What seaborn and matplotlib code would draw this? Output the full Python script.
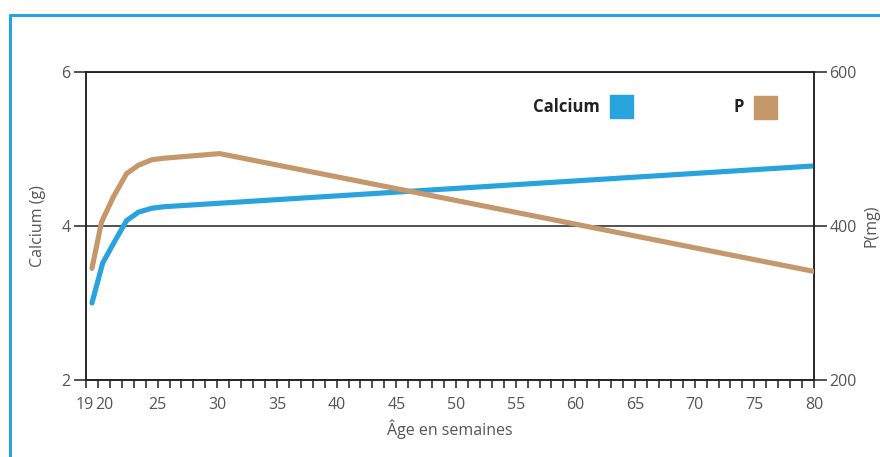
import matplotlib
matplotlib.use("Agg")
import matplotlib.pyplot as plt
import matplotlib.patches as mpatches
import matplotlib.transforms as mtransforms
import seaborn as sns
import pandas as pd

# ---- data ----
ca_weeks = [19.5, 20.4, 21.4, 22.4, 23.4, 24.5, 25.5, 80]
ca_values = [3.0, 3.52, 3.80, 4.07, 4.18, 4.23, 4.25, 4.78]
p_weeks = [19.5, 20.3, 21.3, 22.4, 23.4, 24.5, 25.5, 30.2, 80]
p_values = [345, 405, 438, 468, 479, 486, 488, 494, 341]
x_labels = [19, 20, 25, 30, 35, 40, 45, 50, 55, 60, 65, 70, 75, 80]
left_ticks = [2, 4, 6]
right_ticks = [200, 400, 600]

BLUE = "#29a3dd"
BROWN = "#c4986a"
TXT = "#555555"
AX = "#222222"

sns.set_theme(style="white")
plt.rcParams["font.family"] = ["Open Sans", "DejaVu Sans"]

W, H = 880, 457
fig = plt.figure(figsize=(W / 100, H / 100), dpi=100)
ax = fig.add_axes([86 / W, 1 - 380 / H, (814 - 86) / W, (380 - 72) / H])
ax2 = ax.twinx()

df_ca = pd.DataFrame({"week": ca_weeks, "val": ca_values})
df_p = pd.DataFrame({"week": p_weeks, "val": p_values})
sns.lineplot(data=df_ca, x="week", y="val", ax=ax, color=BLUE, lw=3.7,
             solid_capstyle="round", zorder=3)
sns.lineplot(data=df_p, x="week", y="val", ax=ax2, color=BROWN, lw=3.7,
             solid_capstyle="round", zorder=3)

ax.set_xlim(19, 80)
ax.set_ylim(2, 6)
ax2.set_ylim(200, 600)

weeks = list(range(19, 81))
ax.set_xticks(weeks)
ax.set_xticklabels([str(w) if w in x_labels else "" for w in weeks])
ax.set_yticks(left_ticks)
ax.set_yticklabels([str(v) for v in left_ticks])
ax2.set_yticks(right_ticks)
ax2.set_yticklabels([str(v) for v in right_ticks])

ax.tick_params(axis="x", direction="out", length=5.5, width=1.1, color=AX,
               labelsize=11.5, labelcolor=TXT, pad=6.5, bottom=True)
ax.tick_params(axis="y", direction="out", length=9, width=1.1, color=AX,
               labelsize=11.5, labelcolor=TXT, pad=2, left=True)
ax2.tick_params(axis="y", direction="out", length=9, width=1.1, color=AX,
                labelsize=11.5, labelcolor=TXT, pad=2, right=True)

# separate the crowded 19 / 20 labels slightly (after tick_params)
for lab in ax.get_xticklabels():
    if lab.get_text() == "19":
        lab.set_transform(lab.get_transform() + mtransforms.ScaledTranslation(-1 / 100, 0, fig.dpi_scale_trans))
    if lab.get_text() == "20":
        lab.set_transform(lab.get_transform() + mtransforms.ScaledTranslation(6 / 100, 0, fig.dpi_scale_trans))

ax.grid(axis="y", color=AX, lw=1.1)
ax.grid(axis="x", visible=False)
ax2.grid(False)
for a in (ax, ax2):
    for s in a.spines.values():
        s.set_color(AX)
        s.set_linewidth(1.1)
        s.set_visible(True)
ax.set_axisbelow(True)

ax.set_xlabel("Âge en semaines", fontsize=11.5, color=TXT, labelpad=5)
ax.set_ylabel("Calcium (g)", fontsize=11.5, color=TXT, labelpad=11)
ax2.set_ylabel("P(mg)", fontsize=11.5, color=TXT, labelpad=5)

# legend (figure pixel positions)
def px(x, y):
    return x / W, 1 - y / H

fig.text(*px(600, 107), "Calcium", ha="right", va="center", fontsize=12,
         fontweight="bold", color="#222222")
fig.patches.append(mpatches.Rectangle(px(610, 118), 23 / W, 23 / H,
                                      transform=fig.transFigure, color=BLUE))
fig.text(*px(744, 107), "P", ha="right", va="center", fontsize=12,
         fontweight="bold", color="#222222")
fig.patches.append(mpatches.Rectangle(px(754, 119), 23 / W, 23 / H,
                                      transform=fig.transFigure, color=BROWN))

# blue frame (top and left)
fig.add_artist(plt.Line2D([9.5 / W, 1], [1 - 15 / H, 1 - 15 / H],
                          transform=fig.transFigure, color=BLUE, lw=2.2))
fig.add_artist(plt.Line2D([9.5 / W, 9.5 / W], [0, 1 - 15 / H],
                          transform=fig.transFigure, color=BLUE, lw=2.2))

fig.savefig("out.png", dpi=100)
